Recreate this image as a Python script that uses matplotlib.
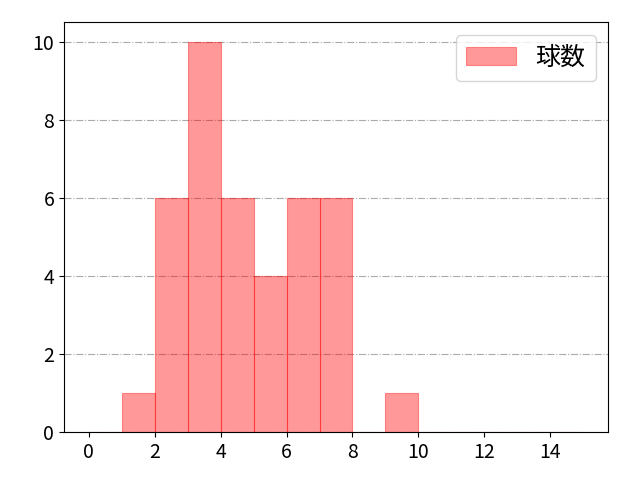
import matplotlib
matplotlib.use("Agg")
import matplotlib.pyplot as plt

plt.rcParams["font.family"] = ["Noto Sans CJK JP", "DejaVu Sans"]

# 球数の分布 (ビン幅 1)
bin_edges = list(range(0, 16))
bin_left = [1, 2, 3, 4, 5, 6, 7, 9]
counts = [1, 6, 10, 6, 4, 6, 6, 1]

fig, ax = plt.subplots(figsize=(6.4, 4.8), dpi=100)
ax.hist(bin_left, bins=bin_edges, weights=counts, color="red", alpha=0.4,
        edgecolor="red", linewidth=0.8, label="球数")
ax.set_xticks([0, 2, 4, 6, 8, 10, 12, 14])
ax.set_yticks([0, 2, 4, 6, 8, 10])
ax.tick_params(labelsize=14)
ax.grid(axis="y", linestyle="-.", color="#aaaaaa", linewidth=0.8)
ax.set_axisbelow(True)
ax.legend(fontsize=18, loc="upper right")
plt.subplots_adjust(left=0.1, right=0.95, top=0.954, bottom=0.1)
plt.savefig("out.png", dpi=100)
